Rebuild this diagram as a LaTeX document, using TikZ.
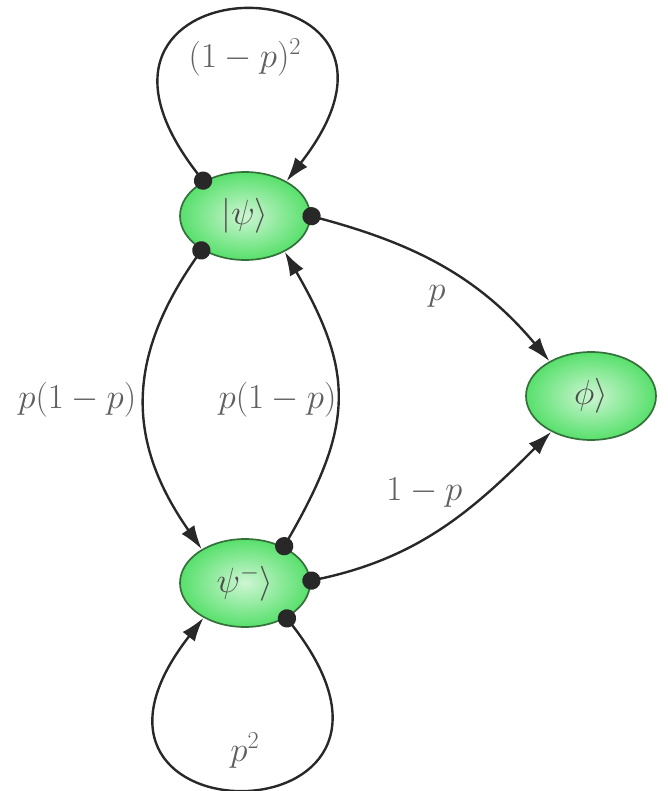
\documentclass[tikz,border=0pt]{standalone}
\usepackage{amsmath,amssymb}
\usepackage{xcolor}
\usepackage{tikz}
\usetikzlibrary{positioning,arrows.meta,shapes.geometric}
\definecolor{stategreen}{RGB}{88,224,108}
\definecolor{stateedge}{RGB}{52,112,58}
\definecolor{linegray}{RGB}{40,40,40}
\definecolor{labelgray}{RGB}{95,95,95}
\tikzset{
  state/.style = {ellipse, draw=stateedge, line width=1.2pt, minimum width=3.25cm, minimum height=2.2cm,
                  inner color=stategreen!30!white, outer color=stategreen, text=black!70,
                  font=\fontsize{23}{28}\selectfont},
  trans/.style = {{Circle[length=13pt]}-{Latex[length=17pt,width=11pt]}, line width=1.7pt, draw=linegray,
                  shorten <=-6pt},
  lbl/.style   = {text=labelgray, font=\fontsize{23}{28}\selectfont},
}

\begin{document}
\begin{tikzpicture}
  \useasboundingbox (0,0) rectangle (16.675,-19.775);
  \node[state] (psi)  at (6.125,-5.4)   {$|\psi\rangle$};
  \node[state] (psim) at (6.125,-14.575) {$\psi^-\rangle$};
  \node[state] (phi)  at (14.775,-9.9)  {$\phi\rangle$};
  % self loops
  \draw[trans] (psi.140) to[out=128, in=52, distance=7.2cm]
    node[lbl, below=0.55cm] {$(1-p)^2$} (psi.40);
  \draw[trans] (psim.320) to[out=-52, in=232, distance=7.2cm]
    node[lbl, above=0.35cm] {$p^2$} (psim.220);
  % between the two psi states
  \draw[trans] (psi.218) to[out=235, in=125, distance=3.3cm]
    node[lbl, left=2pt] {$p(1-p)$} (psim.142);
  \draw[trans] (psim.43) to[out=60, in=-60, distance=3.5cm]
    node[lbl, left=-4pt] {$p(1-p)$} (psi.318);
  % to phi
  \draw[trans] (psi.0) to[out=-15, in=130]
    node[lbl, below left=0.3cm and -0.2cm] {$p$} (phi.140);
  \draw[trans] (psim.2) to[out=12, in=225]
    node[lbl, above=0.35cm, xshift=-0.45cm] {$1-p$} (phi.222);
\end{tikzpicture}
\end{document}
